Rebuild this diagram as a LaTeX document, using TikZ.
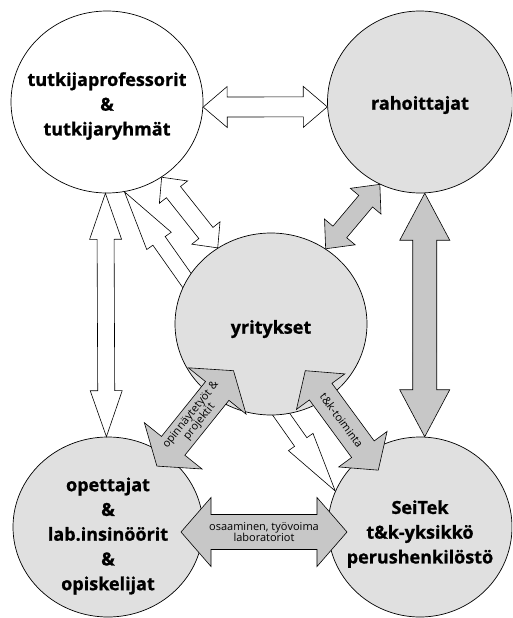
\documentclass[tikz,border=0pt]{standalone}
\usepackage{fontspec}
\setmainfont{Open Sans}[BoldFeatures={FakeBold=1}]
\usetikzlibrary{calc,shapes.geometric,backgrounds}

\definecolor{circfill}{gray}{0.88}
\definecolor{arrowfill}{gray}{0.78}

% double block arrow: [style]{from}{to}{half shaft}{half head}{head length}{text}
\newcommand\blockarrow[7][]{%
  \draw[#1] (#2) -- ($(#2)!#6!(#3)!#5!90:(#3)$) -- ($(#2)!#6!(#3)!#4!90:(#3)$)
    -- ($(#3)!#6!(#2)!#4!270:(#2)$) -- ($(#3)!#6!(#2)!#5!270:(#2)$) -- (#3)
    -- ($(#3)!#6!(#2)!#5!90:(#2)$) -- ($(#3)!#6!(#2)!#4!90:(#2)$)
    -- ($(#2)!#6!(#3)!#4!270:(#3)$) -- ($(#2)!#6!(#3)!#5!270:(#3)$) -- cycle;
  \path (#2) -- node[sloped,arrowtext] {#7} (#3);}

\begin{document}
\begin{tikzpicture}[x=1pt, y=-1pt,
    party/.style={draw, line width=0.7pt, ellipse, inner sep=0pt},
    partytext/.style={align=center, inner sep=0pt,
      font=\bfseries\fontsize{18}{24.75}\selectfont},
    whitearrow/.style={draw, line width=0.6pt, fill=white, line join=miter},
    grayarrow/.style={draw, line width=0.6pt, fill=arrowfill, line join=miter},
    arrowtext/.style={align=center, inner sep=0pt, font=\fontsize{11}{11}\selectfont}]
  \useasboundingbox (0,0) rectangle (512,618);
  \clip (0,0) rectangle (512,618);

  \node[party, minimum width=192, minimum height=182] (tutk) at (107,102) {};
  \node[party, fill=circfill, minimum width=185, minimum height=182] (raha) at (420,102) {};
  \node[party, fill=circfill, minimum width=192, minimum height=182] (yrit) at (271,324) {};
  \node[party, fill=circfill, minimum width=190, minimum height=180] (opet) at (108,527) {};
  \node[party, fill=circfill, minimum width=184, minimum height=180] (seitek) at (420,527) {};

  \node[partytext] (tutk-txt) at ($(tutk)+(0,4)$) {tutkijaprofessorit\\\&\\tutkijaryhmät};
  \node[partytext] (raha-txt) at ($(raha)+(0,3)$) {rahoittajat};
  \node[partytext] (yrit-txt) at ($(yrit)+(0,5)$) {yritykset};
  \node[partytext] (opet-txt) at ($(opet)+(0,9)$) {opettajat\\\&\\lab.insinöörit\\\&\\opiskelijat};
  \node[partytext] (seitek-txt) at ($(seitek)+(0,7)$) {SeiTek\\t\&k-yksikkö\\perushenkilöstö};

  \coordinate (op1) at ($(opet)!.30!(yrit)$);
  \coordinate (op2) at ($(opet)!.77!(yrit)$);
  \coordinate (tk1) at ($(yrit)!.23!(seitek)$);
  \coordinate (tk2) at ($(yrit)!.72!(seitek)$);
  \coordinate (os1) at ($(opet)!.234!(seitek)+(0,5)$);
  \coordinate (os2) at ($(opet)!.766!(seitek)+(0,5)$);

  \begin{pgfonlayer}{background}
    \blockarrow[whitearrow]{tutk.-79}{seitek.157}{7.5pt}{15pt}{60pt}{}
  \end{pgfonlayer}

  \blockarrow[whitearrow]{tutk.-3}{raha.183}{10pt}{20.5pt}{24pt}{}
  \blockarrow[whitearrow]{tutk.-54}{yrit.125}{9pt}{18pt}{19pt}{}
  \blockarrow[whitearrow]{tutk.-91}{opet.91}{8.5pt}{16pt}{46pt}{}
  \blockarrow[grayarrow]{raha.-116}{yrit.54}{9pt}{20pt}{22pt}{}
  \blockarrow[grayarrow]{raha.-87}{seitek.87}{12pt}{25pt}{47pt}{}
  \blockarrow[grayarrow]{op1}{op2}{15pt}{37pt}{26pt}{opinnäytetyöt \&\\projektit}
  \blockarrow[grayarrow]{tk1}{tk2}{14pt}{30pt}{26pt}{t\&k-toiminta}
  \blockarrow[grayarrow]{os1}{os2}{17.5pt}{34.5pt}{30pt}{osaaminen, työvoima\\laboratoriot}
\end{tikzpicture}
\end{document}
